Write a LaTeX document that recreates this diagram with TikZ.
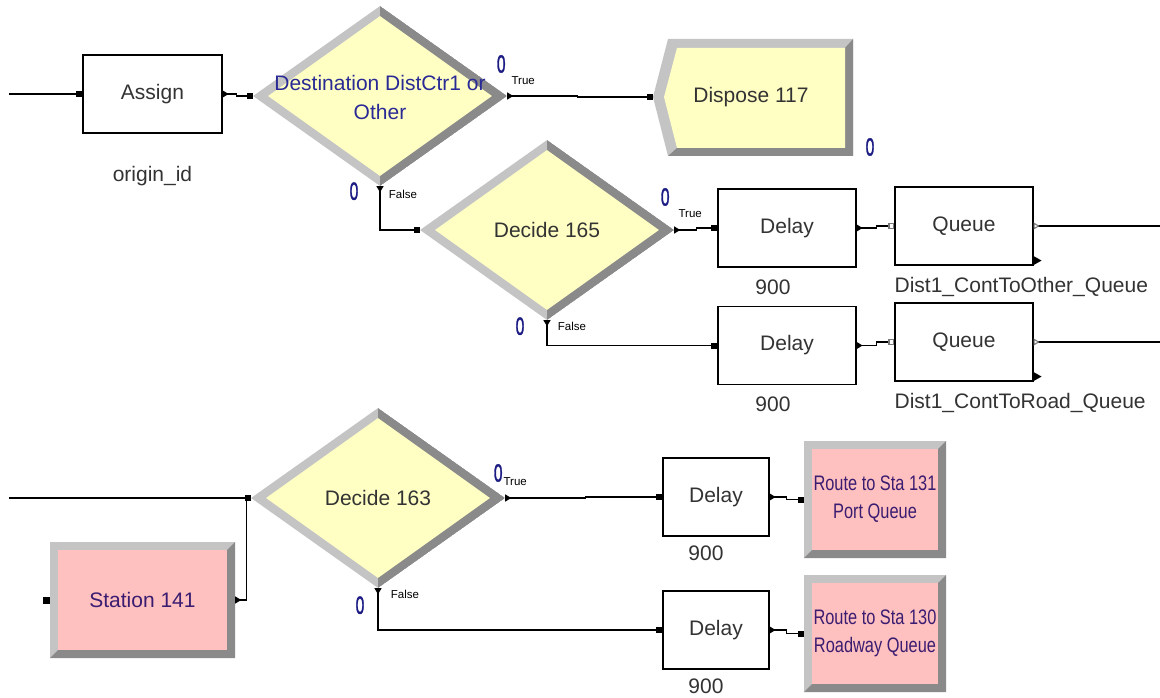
\documentclass[tikz,border=0pt]{standalone}
\usepackage{fontspec}
\setmainfont{Liberation Sans}
\newfontfamily\narrowfam[FakeStretch=0.78]{Liberation Sans}
\newfontfamily\cntfam[FakeStretch=0.62,FakeBold=1.2]{Liberation Sans}
\usetikzlibrary{positioning, arrows.meta, shapes.geometric, calc}
\definecolor{bevlight}{HTML}{C4C4C4}
\definecolor{bevdark}{HTML}{8A8A8A}
\definecolor{decfill}{HTML}{FFFFC4}
\definecolor{stafill}{HTML}{FFC0C0}
\definecolor{cntblue}{HTML}{1C1C84}
\definecolor{modtext}{HTML}{333333}
\definecolor{decblue}{HTML}{2A2A96}
\definecolor{rtext}{HTML}{3A1C70}
\definecolor{portgray}{HTML}{7A7A7A}
\newcommand{\modfont}{\fontsize{21}{29}\selectfont}
\newcommand{\routefont}{\narrowfam\fontsize{21}{28}\selectfont}
\newcommand{\tffont}{\fontsize{11.5}{12}\selectfont}
\newcommand{\cntfont}{\cntfam\fontsize{25}{25}\selectfont}

\tikzset{
  entry/.tip={Square[length=6pt,width=6pt]},
  exitT/.tip={Triangle[reversed,length=6pt,width=7pt]},
  qin/.tip={Square[open,length=6pt,width=6pt,color=portgray,fill=white]},
  qout/.tip={Triangle[open,reversed,length=6pt,width=7pt,color=portgray,fill=white]},
  flow/.style={draw=black, line width=1.1pt},
  modbox/.style={draw=black, line width=1.1pt, minimum width=#1, minimum height=78pt,
                 inner sep=0pt, font=\modfont, text=modtext},
  modbox/.default=138pt,
  lbl/.style={inner sep=0pt, font=\modfont, text=modtext},
  cnt/.style={inner sep=0pt, font=\cntfont, text=cntblue},
  tf/.style={inner sep=0pt, font=\tffont, text=black},
  decide/.style={shape=diamond, minimum width=254pt, minimum height=180pt, inner sep=0pt,
                 fill=bevlight, path picture={
      \fill[bevdark] (path picture bounding box.north) -- (path picture bounding box.east)
                     -- (path picture bounding box.south) -- cycle;
      \fill[decfill] ($(path picture bounding box.north)+(0,10)$)
                     -- ($(path picture bounding box.east)+(-15,0)$)
                     -- ($(path picture bounding box.south)+(0,-10)$)
                     -- ($(path picture bounding box.west)+(15,0)$) -- cycle;}},
  station/.style={minimum width=#1, inner sep=0pt, fill=bevlight, align=center,
                 font=\modfont, text=rtext, path picture={
      \fill[bevdark] (path picture bounding box.north east)
                     -- (path picture bounding box.south east)
                     -- (path picture bounding box.south west) -- ++(8,-8)
                     -- ($(path picture bounding box.south east)+(-8,-8)$)
                     -- ($(path picture bounding box.north east)+(-8,8)$) -- cycle;
      \fill[stafill] ($(path picture bounding box.north west)+(8,8)$)
                     rectangle ($(path picture bounding box.south east)+(-8,-8)$);}},
}

\begin{document}
\begin{tikzpicture}[x=1pt, y=-1pt]
  \useasboundingbox[fill=white] (0,0) rectangle (1160,698);

  % upper flow
  \node[modbox=139pt] (assign) at (152.5,94) {Assign};
  \node[lbl, below=33pt of assign] (assignlbl) {origin\_id};

  \node[decide] (d1) at (380,96) {};
  \node[lbl, text=decblue, align=center] (d1txt) at (380,97) {Destination DistCtr1 or\\Other};
  \node[cnt] (d1c1) at ($(d1.east)+(-6,-32)$) {0};
  \node[tf] (d1t) at ($(d1.east)+(16,-15)$) {True};
  \node[cnt] (d1c2) at ($(d1.south)+(-26,5)$) {0};
  \node[tf] (d1f) at ($(d1.south)+(23,8)$) {False};

  % dispose
  \fill[bevlight] (653,97) -- (668,39) -- (853,39) -- (853,156) -- (668,156) -- cycle;
  \fill[bevdark] (853,39) -- (853,156) -- (668,156) -- (677,148) -- (845,148) -- (845,48) -- cycle;
  \fill[decfill] (664,97) -- (677,48) -- (845,48) -- (845,148) -- (677,148) -- cycle;
  \node[lbl] (dispose) at (751,97) {Dispose 117};
  \coordinate (dispin) at (653,97);
  \node[cnt] (dispc) at (870,147) {0};

  \node[decide] (d2) at (547,230) {};
  \node[lbl] (d2txt) at (d2.center) {Decide 165};
  \node[cnt] (d2c1) at ($(d2.east)+(-9,-33)$) {0};
  \node[tf] (d2t) at ($(d2.east)+(16,-16)$) {True};
  \node[cnt] (d2c2) at ($(d2.south)+(-27,6)$) {0};
  \node[tf] (d2f) at ($(d2.south)+(25,6)$) {False};

  \node[modbox] (dl1) at (787,228) {Delay};
  \node[lbl, below=12pt of dl1, xshift=-14pt] (dl1lbl) {900};
  \node[modbox] (dl2) at (787,345.5) {Delay};
  \node[lbl, below=12pt of dl2, xshift=-14pt] (dl2lbl) {900};

  \node[modbox] (q1) at (964,226) {Queue};
  \node[lbl, below right=12pt and 0pt of q1.south west] (q1lbl) {Dist1\_ContToOther\_Queue};
  \node[modbox] (q2) at (964,342) {Queue};
  \node[lbl, below right=12pt and 0pt of q2.south west] (q2lbl) {Dist1\_ContToRoad\_Queue};
  \fill ($(q1.south east)+(0,-0.5)$) -- ++(0,-9) -- ++(8,4.5) -- cycle;
  \fill ($(q2.south east)+(0,-0.5)$) -- ++(0,-9) -- ++(8,4.5) -- cycle;

  % lower flow
  \node[station=185pt, minimum height=116pt] (sta) at (142.5,600) {Station 141};
  \node[fill=black, minimum size=7pt, inner sep=0pt, anchor=east] (stain) at (sta.west) {};

  \node[decide] (d3) at (378,498) {};
  \node[lbl] (d3txt) at (d3.center) {Decide 163};
  \node[cnt] (d3c1) at ($(d3.east)+(-7,-25)$) {0};
  \node[tf] (d3t) at ($(d3.east)+(10,-16)$) {True};
  \node[cnt] (d3c2) at ($(d3.south)+(-18,17)$) {0};
  \node[tf] (d3f) at ($(d3.south)+(27,6)$) {False};
  \coordinate (d3join) at ($(d3.west)+(-4,0)$);

  \node[modbox=106pt] (dl3) at (716,497) {Delay};
  \node[lbl, below=9pt of dl3, xshift=-10pt] (dl3lbl) {900};
  \node[modbox=106pt] (dl4) at (716,630) {Delay};
  \node[lbl, below=9pt of dl4, xshift=-10pt] (dl4lbl) {900};

  \node[station=142pt, minimum height=117pt, font=\routefont] (r1) at (875,499.5) {Route to Sta 131\\Port Queue};
  \node[station=142pt, minimum height=117pt, font=\routefont] (r2) at (875,633.5) {Route to Sta 130\\Roadway Queue};

  % connectors
  \coordinate (inA) at (9,94);
  \coordinate (inD) at (9,498);
  \coordinate (out1) at ($(q1.east)+(127,0)$);
  \coordinate (out2) at ($(q2.east)+(127,0)$);
  \draw[flow, -{entry}] (inA) -- (assign.west);
  \draw[flow, {exitT}-{entry}] (assign.east) -- ++(14,0) |- (d1.west);
  \draw[flow, {exitT}-{entry}] (d1.east) -- ++(70,0) |- (dispin);
  \draw[flow, {exitT}-{entry}] (d1.south) |- (d2.west);
  \draw[flow, {exitT}-{entry}] (d2.east) -- ++(22,0) |- (dl1.west);
  \draw[flow, {exitT}-{entry}] (d2.south) |- (dl2.west);
  \draw[flow, {exitT}-{qin}] (dl1.east) -- ++(20,0) |- (q1.west);
  \draw[flow, {exitT}-{qin}] (dl2.east) -- ++(20,0) |- (q2.west);
  \draw[flow, {qout}-] (q1.east) -- (out1);
  \draw[flow, {qout}-] (q2.east) -- (out2);
  \draw[flow, -{entry}] (inD) -- (d3.west);
  \draw[flow, {exitT}-] (sta.east) -| (d3join);
  \draw[flow, {exitT}-{entry}] (d3.east) -- ++(80,0) |- (dl3.west);
  \draw[flow, {exitT}-{entry}] (d3.south) |- (dl4.west);
  \draw[flow, {exitT}-{entry}] (dl3.east) -- ++(17,0) |- (r1.west);
  \draw[flow, {exitT}-{entry}] (dl4.east) -- ++(17,0) |- (r2.west);
\end{tikzpicture}
\end{document}
